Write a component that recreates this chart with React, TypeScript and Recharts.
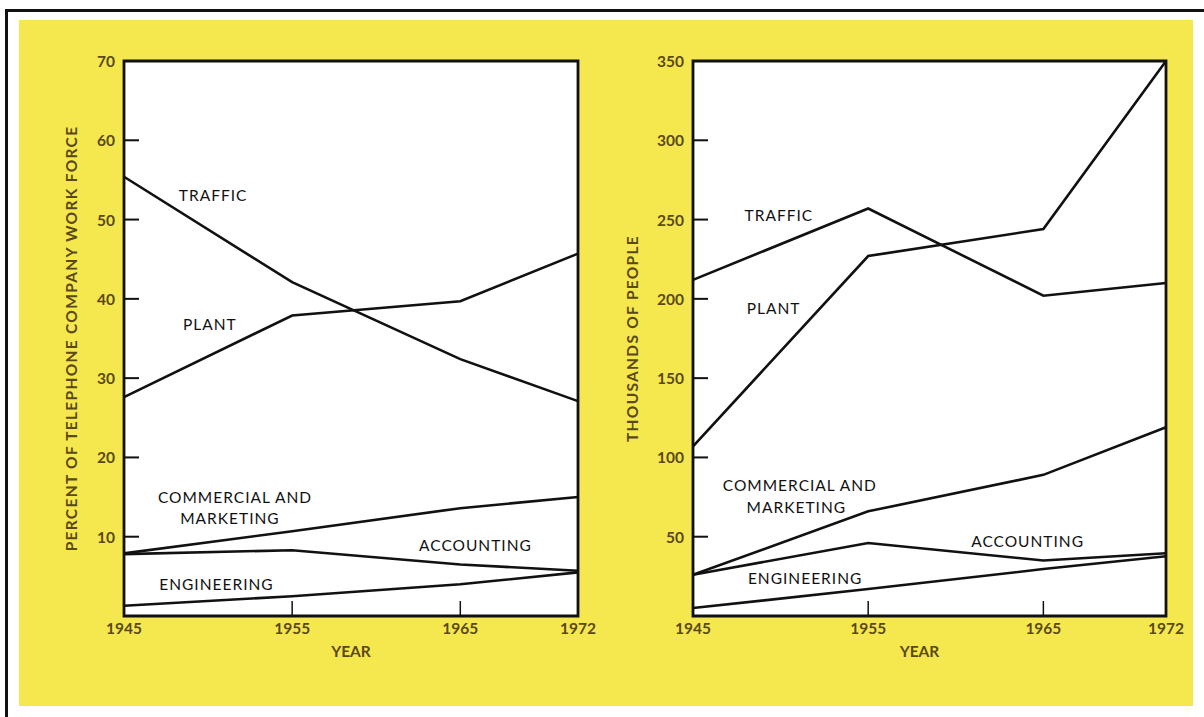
import { LineChart, Line, XAxis, YAxis, ReferenceArea, ReferenceDot } from "recharts";

// years on the x axis
const years = [1945, 1955, 1965, 1972];
const innerYears = [1955, 1965];

// left panel: percent of telephone company work force
const pctTraffic = [55.4, 42.1, 32.4, 27.1];
const pctPlant = [27.6, 37.9, 39.7, 45.7];
const pctCommercial = [7.9, 10.7, 13.6, 15.0];
const pctAccounting = [7.8, 8.3, 6.5, 5.7];
const pctEngineering = [1.3, 2.5, 4.0, 5.5];
const pctTicks = [10, 20, 30, 40, 50, 60, 70];

// right panel: thousands of people
const thTraffic = [212, 257, 202, 210];
const thPlant = [107, 227, 244, 350];
const thCommercial = [26, 66, 89, 119];
const thAccounting = [26, 46, 35, 39.6];
const thEngineering = [5, 17, 29.6, 37.7];
const thTicks = [50, 100, 150, 200, 250, 300, 350];

const seriesNames = ["traffic", "plant", "commercial", "accounting", "engineering"];

// label anchors in data space [text, year, value]
const pctLabels: [string, number, number][] = [
  ["TRAFFIC", 1950.3, 53.1],
  ["PLANT", 1950.1, 36.8],
  ["COMMERCIAL AND", 1951.6, 15.0],
  ["MARKETING", 1951.3, 12.3],
  ["ACCOUNTING", 1965.9, 8.9],
  ["ENGINEERING", 1950.5, 4.0],
];
const thLabels: [string, number, number][] = [
  ["TRAFFIC", 1949.9, 253],
  ["PLANT", 1949.6, 194],
  ["COMMERCIAL AND", 1951.1, 82.4],
  ["MARKETING", 1950.9, 68.6],
  ["ACCOUNTING", 1964.1, 47.2],
  ["ENGINEERING", 1951.4, 23.9],
];

function buildRows(cols: number[][]) {
  return years.map((year, i) => {
    const row: Record<string, number> = { year };
    seriesNames.forEach((name, k) => {
      row[name] = cols[k][i];
    });
    return row;
  });
}

const pctData = buildRows([pctTraffic, pctPlant, pctCommercial, pctAccounting, pctEngineering]);
const thData = buildRows([thTraffic, thPlant, thCommercial, thAccounting, thEngineering]);

const BROWN = "#5a4818";
const FONT = "Lato, 'Noto Sans', sans-serif";
const CHART_H = 686;
const M_TOP = 41;
const M_BOTTOM = 28;
const X_AXIS_H = 62;

const YTick = (props: any) => {
  const { x, y, payload } = props;
  return (
    <text x={x - 1} y={y} textAnchor="end" dominantBaseline="central" fill={BROWN} fontSize={15.5} fontWeight={700} fontFamily={FONT}>
      {payload.value}
    </text>
  );
};

const XTick = (props: any) => {
  const { x, y, payload } = props;
  return (
    <text x={x} y={y - 1} textAnchor="middle" dy="0.71em" fill={BROWN} fontSize={15.5} fontWeight={700} fontFamily={FONT}>
      {payload.value}
    </text>
  );
};

// inward tick marks as small filled bars at the scaled axis point
const InnerYMark = (p: any) => <rect x={Number(p.cx)} y={Number(p.cy) - 1} width={15} height={2} fill="#111" stroke="none" />;
const InnerXMark = (p: any) => <rect x={Number(p.cx) - 0.75} y={Number(p.cy) - 15} width={1.5} height={15} fill="#111" stroke="none" />;

function Panel(props: {
  data: Record<string, number>[];
  ticks: number[];
  max: number;
  title: string;
  labels: [string, number, number][];
  width: number;
  axisWidth: number;
  marginRight: number;
  titleDx: number;
  yearDx: number;
}) {
  const { data, ticks, max, title, labels, width, axisWidth, marginRight, titleDx, yearDx } = props;
  const plotW = width - axisWidth - marginRight;
  const plotH = CHART_H - M_TOP - M_BOTTOM - X_AXIS_H;
  return (
    <div style={{ position: "relative", width, height: CHART_H }}>
      {/* white plot field behind the transparent svg */}
      <div style={{ position: "absolute", left: axisWidth, top: M_TOP, width: plotW, height: plotH, background: "#fff" }} />
      <div style={{ position: "absolute", left: 0, top: 0 }}>
        <LineChart width={width} height={CHART_H} data={data} margin={{ top: M_TOP, right: marginRight, bottom: M_BOTTOM, left: 0 }}>
          <XAxis
            dataKey="year"
            type="number"
            domain={[1945, 1972]}
            ticks={years}
            axisLine={false}
            tickLine={false}
            tickSize={8}
            tickMargin={0}
            height={X_AXIS_H}
            interval={0}
            tick={<XTick />}
            label={{ value: "YEAR", position: "insideBottom", offset: 21, dx: yearDx, fill: BROWN, fontSize: 15.5, fontWeight: 700, fontFamily: FONT }}
          />
          <YAxis
            type="number"
            domain={[0, max]}
            ticks={ticks}
            axisLine={false}
            tickLine={false}
            tickSize={8}
            tickMargin={0}
            width={axisWidth}
            interval={0}
            tick={<YTick />}
            label={{ value: title, angle: -90, position: "center", dx: titleDx, fill: BROWN, fontSize: 15.5, fontWeight: 700, fontFamily: FONT, letterSpacing: 1.3 }}
          />
          <ReferenceArea x1={1945} x2={1972} y1={0} y2={max} fill="none" fillOpacity={0} stroke="#111" strokeWidth={2.8} />
          {ticks
            .filter((t) => t < max)
            .map((t) => (
              <ReferenceDot key={"ty" + t} x={1945} y={t} r={0} ifOverflow="visible" shape={(p: any) => <InnerYMark {...p} />} />
            ))}
          {innerYears.map((yr) => (
            <ReferenceDot key={"tx" + yr} x={yr} y={0} r={0} ifOverflow="visible" shape={(p: any) => <InnerXMark {...p} />} />
          ))}
          {seriesNames.map((name) => (
            <Line
              key={name}
              dataKey={name}
              type="linear"
              stroke="#111"
              strokeWidth={2.6}
              dot={false}
              activeDot={false}
              isAnimationActive={false}
            />
          ))}
          {labels.map(([text, yr, val]) => (
            <ReferenceDot
              key={text}
              x={yr}
              y={val}
              r={0}
              ifOverflow="visible"
              shape={(p: any) => (
                <text x={p.cx} y={p.cy} textAnchor="middle" dominantBaseline="central" fill="#111" fontSize={15.5} fontFamily={FONT} letterSpacing={1}>
                  {text}
                </text>
              )}
            />
          ))}
        </LineChart>
      </div>
    </div>
  );
}

export default function App() {
  return (
    <div style={{ position: "absolute", left: 0, top: 0, width: 1204, height: 717, background: "#fff", overflow: "hidden" }}>
      {/* frame lines */}
      <div style={{ position: "absolute", left: 5, top: 9, width: 1199, height: 3, background: "#111" }} />
      <div style={{ position: "absolute", left: 5, top: 9, width: 3, height: 708, background: "#111" }} />
      {/* yellow panel */}
      <div style={{ position: "absolute", left: 19, top: 20, width: 1174, height: 686, background: "#f5e84e" }}>
        <div style={{ position: "absolute", left: 0, top: 0 }}>
          <Panel
            data={pctData}
            ticks={pctTicks}
            max={70}
            title="PERCENT OF TELEPHONE COMPANY WORK FORCE"
            labels={pctLabels}
            width={580}
            axisWidth={105}
            marginRight={21}
            titleDx={0}
            yearDx={0}
          />
        </div>
        <div style={{ position: "absolute", left: 580, top: 0 }}>
          <Panel
            data={thData}
            ticks={thTicks}
            max={350}
            title="THOUSANDS OF PEOPLE"
            labels={thLabels}
            width={594}
            axisWidth={94}
            marginRight={27}
            titleDx={-14}
            yearDx={-10}
          />
        </div>
      </div>
    </div>
  );
}
